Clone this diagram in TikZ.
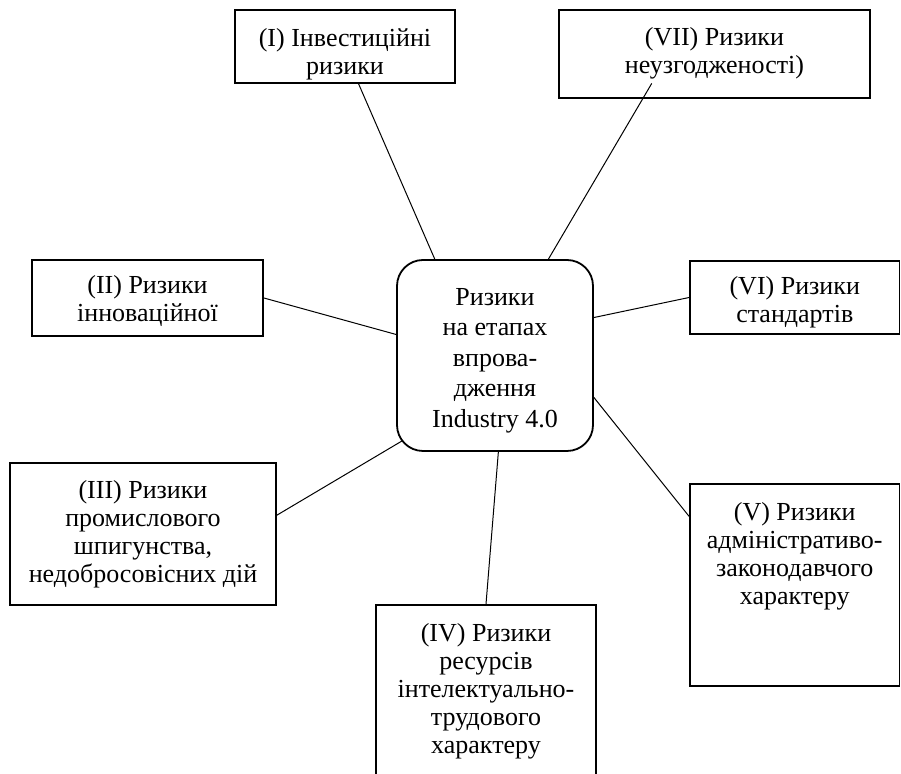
\documentclass[tikz,border=0pt]{standalone}
\usepackage{fontspec}
\setmainfont{Liberation Serif}
\usetikzlibrary{positioning,calc}
\tikzset{
  every node/.style={
    font=\fontsize{13}{14}\selectfont
  },
  riskbox/.style={
    draw, line width=0.9pt, inner sep=0pt
  },
  risktext/.style={
    align=center, inner sep=2pt
  },
  hub/.style={
    draw, line width=0.9pt, rounded corners=13pt,
    inner sep=0pt,
    minimum width=98pt, minimum height=95.5pt
  },
  hubtext/.style={
    align=center, inner sep=0pt,
    font=\fontsize{13}{15.25}\selectfont
  },
  link/.style={
    line width=0.5pt
  }
}

\begin{document}
\begin{tikzpicture}[x=0.5pt,y=-0.5pt]
  \useasboundingbox (0,0) rectangle (901,774);

  \node[hub] (hub) at (495,355.5) {};
  \node[hubtext,yshift=-2.5pt] (hubt) at (hub.center) {Ризики\\на етапах\\впрова-\\дження\\Industry 4.0};

  \node[riskbox,minimum width=110pt,minimum height=36.5pt] (inv) at (345,46.5) {};
  \node[risktext,below=7.5pt of inv.north] (invt) {(I) Інвестиційні\\ризики};

  \node[riskbox,minimum width=115.5pt,minimum height=38pt] (inn) at (147.5,298) {};
  \node[risktext,below=6pt of inn.north] (innt) {(II) Ризики\\інноваційної};

  \node[riskbox,minimum width=133pt,minimum height=71pt] (spy) at (143,534) {};
  \node[risktext,below=7pt of spy.north] (spyt) {(III) Ризики\\промислового\\шпигунства,\\недобросовісних дій};

  \node[riskbox,minimum width=110pt,minimum height=97.5pt] (res) at (486,702.5) {};
  \node[risktext,below=7.5pt of res.north] (rest) {(IV) Ризики\\ресурсів\\інтелектуально-\\трудового\\характеру};

  \node[riskbox,minimum width=104.75pt,minimum height=101pt] (adm) at (794.75,585) {};
  \node[risktext,below=7.5pt of adm.north] (admt) {(V) Ризики\\адміністративо-\\законодавчого\\характеру};

  \node[riskbox,minimum width=104.75pt,minimum height=36.5pt] (std) at (794.75,297.5) {};
  \node[risktext,below=6pt of std.north] (stdt) {(VI) Ризики\\стандартів};

  \node[riskbox,minimum width=155.5pt,minimum height=44pt] (vii) at (714.5,54) {};
  \node[risktext,below=7pt of vii.north] (viit) {(VII) Ризики\\неузгодженості)};

  \draw[link] (inv.290) -- (hub.122);
  \draw[link,shorten >=-9pt] (hub.61) -- (vii.212);
  \draw[link] (inn.east) -- (hub.168);
  \draw[link] (hub.21) -- (std.west);
  \draw[link] (hub.337) -- (adm.147);
  \draw[link] (spy.8) -- ($(hub.south west)+(6,-11)$);
  \draw[link] (hub.272) -- (res.north);
\end{tikzpicture}
\end{document}
